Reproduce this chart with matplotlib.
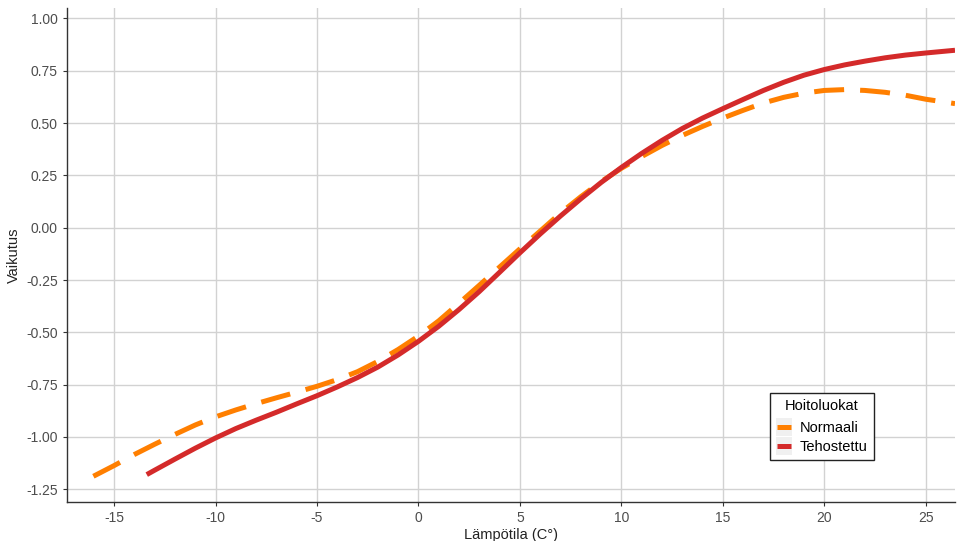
import matplotlib
matplotlib.use("Agg")
import matplotlib.pyplot as plt
from matplotlib.lines import Line2D
from matplotlib.patches import Rectangle
from matplotlib.legend_handler import HandlerLine2D

plt.rcParams['font.family'] = ['Liberation Sans', 'DejaVu Sans']

# Lämpötilan vaikutus hoitoluokittain
temp_normaali = [-16.02, -15, -14, -13, -12, -11, -10, -9, -8, -7, -6, -5, -4, -3, -2, -1,
                 0, 1, 2, 3, 4, 5, 6, 7, 8, 9, 10, 11, 12, 13, 14, 15, 16, 17, 18, 19,
                 20, 21, 22, 23, 24, 25, 26.44]
vaik_normaali = [-1.188, -1.137, -1.084, -1.035, -0.988, -0.943, -0.904, -0.871, -0.841,
                 -0.813, -0.786, -0.758, -0.726, -0.688, -0.639, -0.582,
                 -0.518, -0.445, -0.361, -0.275, -0.188, -0.101, -0.016, 0.070, 0.148,
                 0.220, 0.284, 0.340, 0.393, 0.441, 0.484, 0.524, 0.561, 0.596, 0.623,
                 0.643, 0.656, 0.660, 0.656, 0.647, 0.633, 0.614, 0.593]

temp_tehostettu = [-13.39, -13, -12, -11, -10, -9, -8, -7, -6, -5, -4, -3, -2, -1,
                   0, 1, 2, 3, 4, 5, 6, 7, 8, 9, 10, 11, 12, 13, 14, 15, 16, 17, 18,
                   19, 20, 21, 22, 23, 24, 25, 26.44]
vaik_tehostettu = [-1.180, -1.159, -1.106, -1.054, -1.005, -0.960, -0.920, -0.882,
                   -0.842, -0.803, -0.761, -0.716, -0.666, -0.608,
                   -0.543, -0.471, -0.391, -0.305, -0.213, -0.120, -0.030, 0.056, 0.138,
                   0.216, 0.288, 0.355, 0.417, 0.474, 0.524, 0.569, 0.613, 0.656, 0.695,
                   0.729, 0.756, 0.778, 0.796, 0.812, 0.825, 0.835, 0.848]

sarjat = ["Normaali", "Tehostettu"]
varit = ["#FF7F00", "#D42A2A"]

x_ticks = [-15, -10, -5, 0, 5, 10, 15, 20, 25]
y_ticks = [-1.25, -1.00, -0.75, -0.50, -0.25, 0.00, 0.25, 0.50, 0.75, 1.00]

fig = plt.figure(figsize=(9.57, 5.41), dpi=100)
ax = fig.add_axes([67 / 957, 39 / 541, 888 / 957, 494 / 541])

ax.plot(temp_normaali, vaik_normaali, color=varit[0], lw=3.6,
        dashes=(6.0, 3.2), dash_capstyle='butt', solid_joinstyle='round', zorder=3)
ax.plot(temp_tehostettu, vaik_tehostettu, color=varit[1], lw=3.6,
        solid_capstyle='butt', solid_joinstyle='round', zorder=3)

ax.set_xlim(-17.32, 26.44)
ax.set_ylim(-1.311, 1.050)
ax.set_xticks(x_ticks)
ax.set_xticklabels([str(t) for t in x_ticks])
ax.set_yticks(y_ticks)
ax.set_yticklabels([f"{t:.2f}" for t in y_ticks])

ax.grid(True, color="#D2D2D2", linewidth=1.0)
ax.set_axisbelow(True)
for s in ["top", "right"]:
    ax.spines[s].set_visible(False)
for s in ["left", "bottom"]:
    ax.spines[s].set_color("#333333")
    ax.spines[s].set_linewidth(1.0)
ax.tick_params(axis="both", colors="#333333", labelcolor="#4D4D4D",
               labelsize=10, length=3, width=0.8)

ax.set_xlabel("Lämpötila (C°)", fontsize=10.5, color="#222222", labelpad=2)
ax.set_ylabel("Vaikutus", fontsize=10.5, color="#222222", labelpad=4)


class KeyHandler(HandlerLine2D):
    def create_artists(self, legend, orig_handle, xdescent, ydescent,
                       width, height, fontsize, trans):
        bg = Rectangle((-xdescent, -ydescent - 3), width, height + 6,
                       facecolor="#F0F0F0", edgecolor="none", transform=trans)
        y = -ydescent + height / 2
        ln = Line2D([-xdescent + 1, -xdescent + width - 1], [y, y],
                    color=orig_handle.get_color(), lw=3.6,
                    solid_capstyle='butt', transform=trans)
        return [bg, ln]


handles = [Line2D([], [], color=c, lw=3.6) for c in varit]
leg = ax.legend(handles, sarjat, title="Hoitoluokat", loc="upper left",
                bbox_to_anchor=(0.7917, 0.2206), fontsize=10.5, title_fontsize=10.5,
                handlelength=1.1, handletextpad=0.55, labelspacing=0.35,
                borderpad=0.4, borderaxespad=0, fancybox=False, framealpha=1,
                handler_map={Line2D: KeyHandler()})
leg.get_frame().set_edgecolor("#222222")
leg.get_frame().set_linewidth(1.0)
leg._legend_box.sep = 6

fig.savefig("out.png", dpi=100)
